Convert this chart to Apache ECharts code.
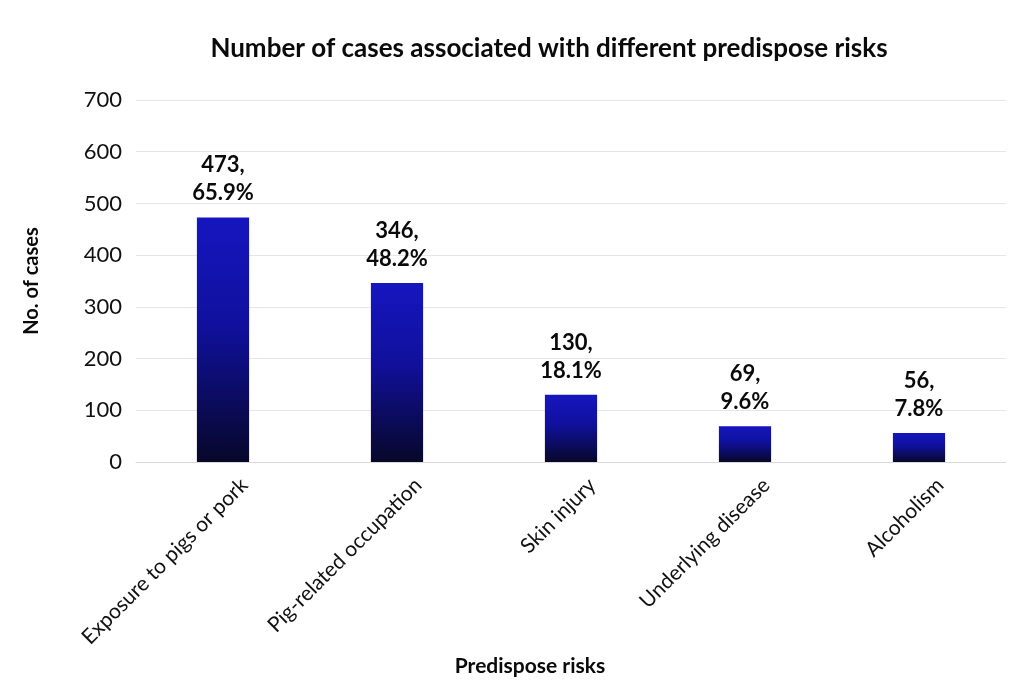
<!DOCTYPE html>
<html>
<head>
<meta charset="utf-8">
<script src="https://cdn.jsdelivr.net/npm/echarts@6/dist/echarts.min.js"></script>
<style>html,body{margin:0;padding:0;background:#fff}#c{width:1034px;height:686px}</style>
</head>
<body>
<div id="c"></div>
<script>
const categories = ["Exposure to pigs or pork", "Pig-related occupation", "Skin injury", "Underlying disease", "Alcoholism"];
const cases = [473, 346, 130, 69, 56];
const percents = ["65.9%", "48.2%", "18.1%", "9.6%", "7.8%"];
const yTicks = [0, 100, 200, 300, 400, 500, 600, 700];

const chart = echarts.init(document.getElementById('c'));
const font = 'Lato, "Open Sans", sans-serif';
chart.setOption({
  animation: false,
  backgroundColor: '#ffffff',
  title: {
    text: 'Number of cases associated with different predispose risks',
    left: 544, top: 31, textAlign: 'center',
    textStyle: { fontFamily: font, fontSize: 26, fontWeight: 'bold', color: '#0a0a0a' }
  },
  grid: { left: 136, right: 28, top: 100, bottom: 224 },
  xAxis: {
    type: 'category',
    data: categories,
    name: 'Predispose risks',
    nameLocation: 'middle',
    nameGap: 194,
    nameTextStyle: { fontFamily: font, fontSize: 21, fontWeight: 'bold', color: '#0a0a0a', padding: [0, 82, 0, 0] },
    axisLine: { show: true, lineStyle: { color: '#d9d9d9' } },
    axisTick: { show: false },
    axisLabel: { rotate: 45, fontFamily: font, fontSize: 21, color: '#111', margin: 41, padding: [0, -30, 0, 0] }
  },
  yAxis: {
    type: 'value',
    min: yTicks[0], max: yTicks[yTicks.length - 1], interval: 100,
    name: 'No. of cases',
    nameLocation: 'middle',
    nameGap: 94,
    nameTextStyle: { fontFamily: font, fontSize: 20, fontWeight: 'bold', color: '#0a0a0a' },
    axisLine: { show: false },
    axisTick: { show: false },
    axisLabel: { fontFamily: font, fontSize: 22, color: '#111', margin: 14 },
    splitLine: { lineStyle: { color: '#e6e6e6' } }
  },
  series: [{
    type: 'bar',
    data: cases,
    barWidth: '30%',
    itemStyle: {
      color: new echarts.graphic.LinearGradient(0, 0, 0, 1, [
        { offset: 0, color: '#1616c0' },
        { offset: 0.45, color: '#10109c' },
        { offset: 1, color: '#07072a' }
      ])
    },
    label: {
      show: true,
      position: 'top',
      distance: 10,
      fontFamily: font, fontSize: 22, fontWeight: 'bold', color: '#0a0a0a',
      lineHeight: 28,
      formatter: p => p.value + ',\n' + percents[p.dataIndex]
    }
  }]
});
</script>
</body>
</html>
